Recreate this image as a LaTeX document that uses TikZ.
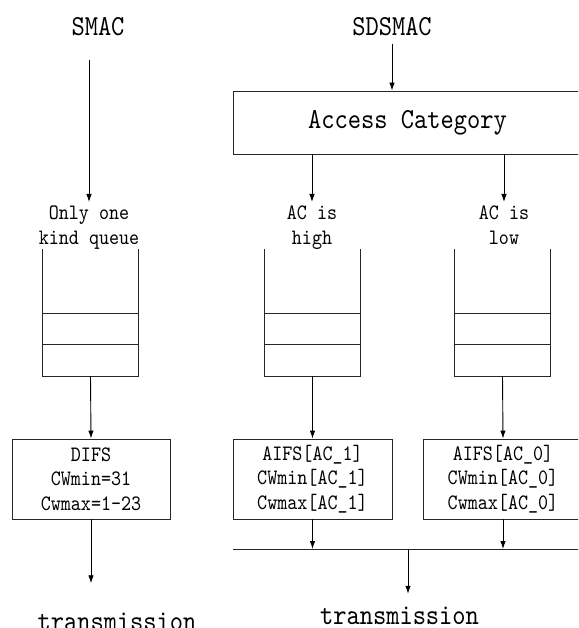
\documentclass[tikz,border=0pt]{standalone}
\usepackage{fontspec}
\setmainfont{lmmono10-regular.otf}[FakeStretch=0.87]
\usetikzlibrary{arrows.meta}
\newcommand{\txtbig}{\fontsize{29}{34}\selectfont}
\newcommand{\txtsmall}{\fontsize{22}{24.5}\selectfont}
\tikzset{
  line/.style={draw=black!85, line width=0.9pt},
  arr/.style={draw=black, line width=0.9pt, -{Latex[length=8pt,width=5.5pt]}},
  head/.style={font=\txtbig, inner sep=3pt},
  qlabel/.style={font=\txtsmall, align=center, inner xsep=0pt, inner ysep=4pt, anchor=north},
  queue/.style={minimum width=95pt, minimum height=127pt, inner sep=0pt},
  param/.style={line, font=\txtsmall, align=center, minimum height=80pt, inner sep=0pt},
}
\begin{document}
\begin{tikzpicture}[x=1pt, y=-1pt]
\useasboundingbox (0,0) rectangle (578,628);
\clip (0,0) rectangle (578,628);
% SMAC column
\node[head, anchor=base] (smac) at (98,36) {SMAC};
\node[qlabel] (onlyq) at (89,202) {Only one\\kind queue};
\node[queue] (q0) at (90.5,312.5) {};
\node[param, minimum width=158pt] (difs) at (91,479) {DIFS\\CWmin=31\\Cwmax=1-23};
\node[head, anchor=base] (tx1) at (117,630) {transmission};
% SDSMAC column
\node[head, anchor=base] (sdsmac) at (392,36) {SDSMAC};
\node[line, font=\txtbig, minimum width=349pt, minimum height=63pt] (ac) at (407.5,122.5) {Access Category};
\node[qlabel] (high) at (312,202) {AC is\\high};
\node[qlabel] (low) at (504,202) {AC is\\low};
\node[queue] (q1) at (312.5,312.5) {};
\node[queue] (q2) at (502.5,312.5) {};
\node[param, minimum width=159pt] (ac1) at (312.5,479) {AIFS[AC\_1]\\CWmin[AC\_1]\\Cwmax[AC\_1]};
\node[param, minimum width=160pt] (ac0) at (503,479) {AIFS[AC\_0]\\CWmin[AC\_0]\\Cwmax[AC\_0]};
\coordinate (busl) at (233,549);
\coordinate (busr) at (583,549);
\coordinate (busm) at (408,549);
\node[head, anchor=base] (tx2) at (399.5,624) {transmission};
% queues, open at the top
\foreach \q in {q0,q1,q2} {
  \draw[line] (\q.north west) |- (\q.south) -| (\q.north east);
  \draw[line] ([yshift=32pt]\q.south west) -- ([yshift=32pt]\q.south east);
  \draw[line] ([yshift=63pt]\q.south west) -- ([yshift=63pt]\q.south east);
}
% connectors
\draw[arr, shorten <=20pt] (smac.south -| onlyq.north) -- (onlyq.north);
\draw[arr] (q0.south) -- (difs.north);
\draw[arr, shorten >=26pt] (difs.south) -- (difs.south |- tx1.north);
\draw[arr, shorten <=4pt] (sdsmac.south) -- (sdsmac.south |- ac.north);
\draw[arr] (ac.south -| high.north) -- (high.north);
\draw[arr] (ac.south -| low.north) -- (low.north);
\draw[arr] (q1.south) -- (ac1.north);
\draw[arr] (q2.south) -- (ac0.north);
\draw[line] (busl) -- (busr);
\draw[arr] (ac1.south) -- (ac1.south |- busl);
\draw[arr] (ac0.south) -- (ac0.south |- busl);
\draw[arr, shorten >=9.5pt] (busm) -- (busm |- tx2.north);
\end{tikzpicture}
\end{document}
